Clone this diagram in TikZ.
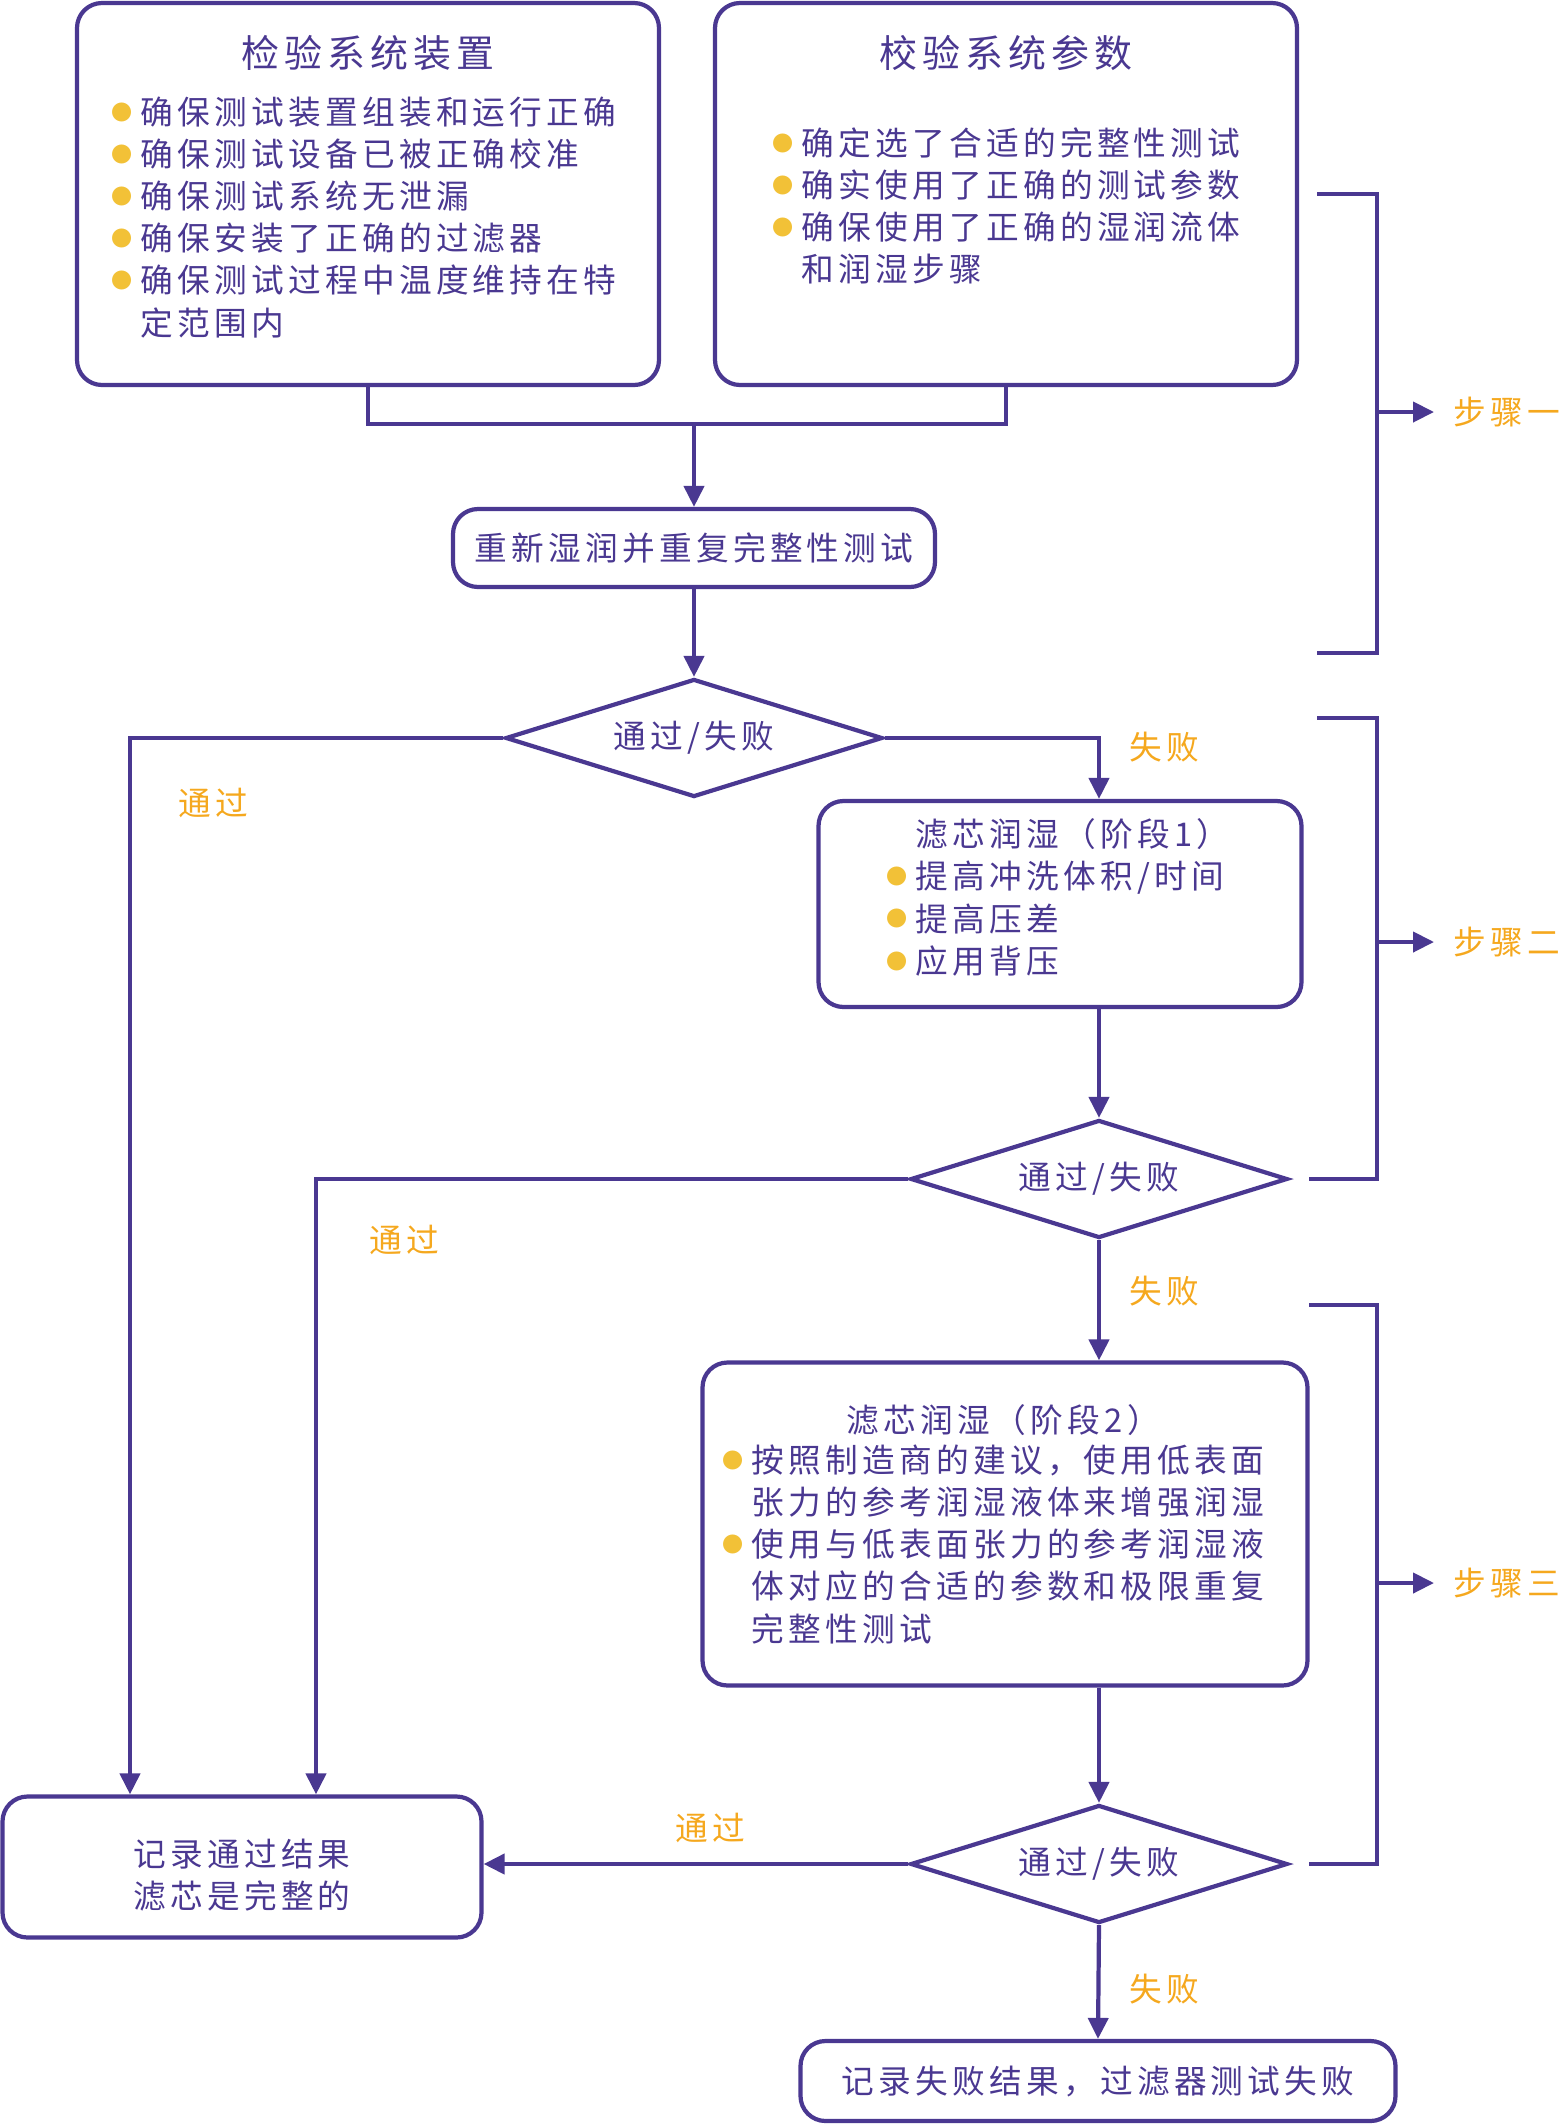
\documentclass[tikz,border=0pt]{standalone}
\usepackage{fontspec}
\setmainfont{Noto Sans CJK SC}[LetterSpace=13]
\usetikzlibrary{shapes.geometric,arrows.meta}
\definecolor{lila}{RGB}{74,56,145}
\definecolor{orng}{RGB}{245,168,30}
\definecolor{dotc}{RGB}{242,193,55}
\newcommand{\bul}{{\color{dotc}\raisebox{1.2pt}{\fontsize{6pt}{6pt}\selectfont ●}}\hspace{2.2pt}}
\begin{document}
\begin{tikzpicture}[
	box/.style={draw=lila, line width=1.2pt, rounded corners=0.25cm, inner sep=0pt},
	dia/.style={draw=lila, line width=1.2pt, diamond, aspect=3.2, minimum width=3.77cm, minimum height=1.18cm, inner sep=0pt, text=lila, font=\fontsize{9.3pt}{12pt}\selectfont},
	txt/.style={text=lila, inner sep=0pt, align=left, font=\fontsize{9.3pt}{12pt}\selectfont},
	head/.style={text=lila, inner sep=0pt, font=\fontsize{10.8pt}{14pt}\selectfont},
	lab/.style={text=orng, inner sep=0pt, font=\fontsize{9.3pt}{12pt}\selectfont},
	wire/.style={draw=lila, line width=1.2pt},
	arr/.style={wire, -{Triangle[length=0.21cm,width=0.2cm]}}]
	\useasboundingbox (0,0) rectangle (15.65,-21.24);
	
	% step one
	\node[box, minimum width=5.82cm, minimum height=3.82cm] (check) at (3.68,-1.94) {};
	\node[head] (checkT) at (3.68,-0.53) {检验系统装置};
	\node[txt, anchor=north west] (checkL) at (1.11,-0.96) {\bul 确保测试装置组装和运行正确\\ \bul 确保测试设备已被正确校准\\ \bul 确保测试系统无泄漏\\ \bul 确保安装了正确的过滤器\\ \bul 确保测试过程中温度维持在特\\ \hphantom{\bul}定范围内};
	\node[box, minimum width=5.82cm, minimum height=3.82cm] (param) at (10.06,-1.94) {};
	\node[head] (paramT) at (10.06,-0.53) {校验系统参数};
	\node[txt, anchor=north west] (paramL) at (7.72,-1.27) {\bul 确定选了合适的完整性测试\\ \bul 确实使用了正确的测试参数\\ \bul 确保使用了正确的湿润流体\\ \hphantom{\bul}和润湿步骤};
	\coordinate (join) at (6.94,-4.24);
	\draw[wire] (check.south) |- (join) -| (param.south);
	\node[box, txt, minimum width=4.82cm, minimum height=0.78cm] (redo) at (6.94,-5.48) {重新湿润并重复完整性测试};
	\draw[arr] (join) -- (redo.north);
	
	% step two
	\node[dia] (test1) at (6.94,-7.38) {通过/失败};
	\draw[arr] (redo.south) -- (test1.north);
	\node[box, minimum width=4.83cm, minimum height=2.06cm] (wet1) at (10.60,-9.04) {};
	\node[txt, anchor=north west] (wet1L) at (8.86,-8.18) {\hphantom{\bul}滤芯润湿（阶段1）\\ \bul 提高冲洗体积/时间\\ \bul 提高压差\\ \bul 应用背压};
	\node[dia] (test2) at (10.99,-11.79) {通过/失败};
	\draw[arr] (test1.east) -| (test2 |- wet1.north);
	\draw[arr] (test2 |- wet1.south) -- (test2.north);
	
	% step three
	\node[box, minimum width=6.05cm, minimum height=3.23cm] (wet2) at (10.05,-15.24) {};
	\node[txt] (wet2T) at (10.03,-14.20) {滤芯润湿（阶段2）};
	\node[txt, anchor=north west] (wet2L) at (7.22,-14.44) {\bul 按照制造商的建议，使用低表面\\ \hphantom{\bul}张力的参考润湿液体来增强润湿\\ \bul 使用与低表面张力的参考润湿液\\ \hphantom{\bul}体对应的合适的参数和极限重复\\ \hphantom{\bul}完整性测试};
	\node[dia] (test3) at (10.99,-18.64) {通过/失败};
	\draw[arr] (test2.south) -- (test2 |- wet2.north);
	\draw[arr] (test2 |- wet2.south) -- (test3.north);
	
	% results
	\node[box, minimum width=4.79cm, minimum height=1.41cm] (pass) at (2.42,-18.67) {};
	\node[txt] (passT) at (2.42,-18.75) {记录通过结果\\滤芯是完整的};
	\node[box, txt, minimum width=5.95cm, minimum height=0.80cm] (fail) at (10.98,-20.81) {记录失败结果，过滤器测试失败};
	\draw[arr] (test1.west) -| ([xshift=-1.12cm]pass.north);
	\draw[arr] (test2.west) -| ([xshift=0.74cm]pass.north);
	\draw[arr] (test3.west) -- (test3 -| pass.east);
	\draw[arr] (test3.south) -- (fail.north);
	
	\node[lab] (pass1) at (2.13,-8.03) {通过};
	\node[lab] (fail1) at (11.64,-7.47) {失败};
	\node[lab] (pass2) at (4.04,-12.40) {通过};
	\node[lab] (fail2) at (11.64,-12.91) {失败};
	\node[lab] (pass3) at (7.10,-18.28) {通过};
	\node[lab] (fail3) at (11.64,-19.89) {失败};
	
	% brackets
	\draw[wire] (13.17,-1.94) -| (13.77,-6.53) -- (13.17,-6.53);
	\draw[wire] (13.17,-7.18) -| (13.77,-11.79) -- (13.09,-11.79);
	\draw[wire] (13.09,-13.05) -| (13.77,-18.64) -- (13.09,-18.64);
	\coordinate (s1) at (13.77,-4.12);
	\coordinate (s2) at (13.77,-9.42);
	\coordinate (s3) at (13.77,-15.83);
	\node[lab, anchor=west] (step1) at (14.53,-4.12) {步骤一};
	\node[lab, anchor=west] (step2) at (14.53,-9.42) {步骤二};
	\node[lab, anchor=west] (step3) at (14.53,-15.83) {步骤三};
	\draw[arr, shorten >=0.19cm] (s1) -- (step1.west);
	\draw[arr, shorten >=0.19cm] (s2) -- (step2.west);
	\draw[arr, shorten >=0.19cm] (s3) -- (step3.west);
\end{tikzpicture}
\end{document}
